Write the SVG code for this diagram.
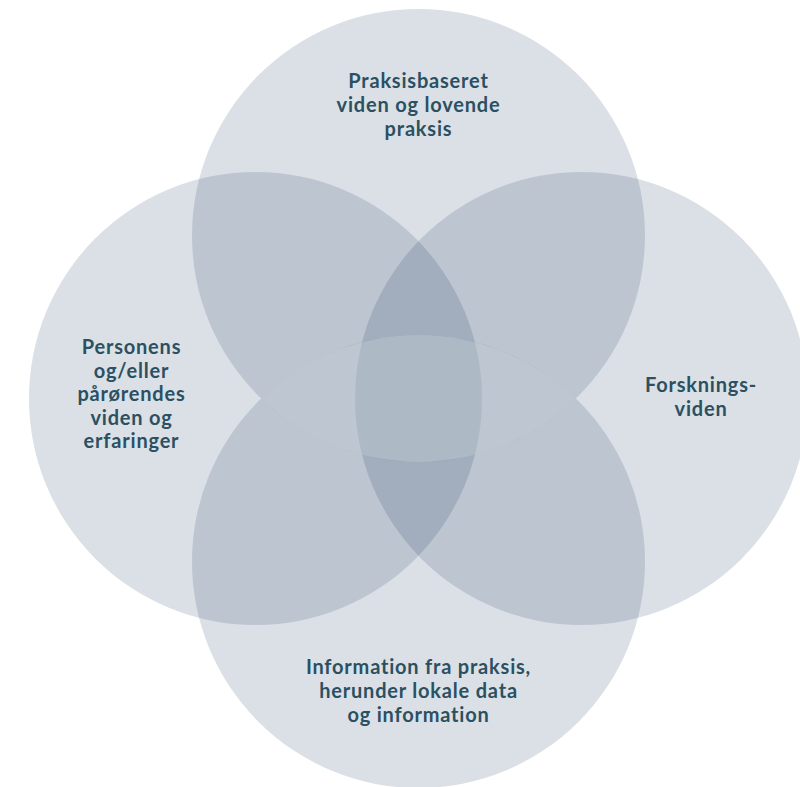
<svg xmlns="http://www.w3.org/2000/svg" width="800" height="787" viewBox="0 0 800 787">
  <style>
    .circle { fill: #0f3058; fill-opacity: 0.15; }
    .lens { fill: #ffffff; fill-opacity: 0.3; }
    .label { font-family: Lato, "Liberation Sans", sans-serif; font-weight: bold; font-size: 20px; letter-spacing: 0.8px; fill: #2b5062; text-anchor: middle; }
  </style>
  <rect width="800" height="787" fill="#ffffff"/>
  <g id="node-top">
    <circle class="circle" cx="418.5" cy="235.5" r="226.5"/>
  </g>
  <g id="node-left">
    <circle class="circle" cx="255.5" cy="398.5" r="226.5"/>
  </g>
  <g id="node-right">
    <circle class="circle" cx="581.5" cy="398.5" r="226.5"/>
  </g>
  <g id="node-bottom">
    <circle class="circle" cx="418.5" cy="561.5" r="226.5"/>
  </g>
  <g id="highlight">
    <path class="lens" d="M 261.2 398.5 A 226.5 226.5 0 0 1 575.8 398.5 A 226.5 226.5 0 0 1 261.2 398.5 Z"/>
  </g>
  <g id="labels">
    <text class="label" x="418.5" y="88">Praksisbaseret</text>
    <text class="label" x="418.5" y="112">viden og lovende</text>
    <text class="label" x="418.5" y="135.5">praksis</text>
    <text class="label" x="131.5" y="354">Personens</text>
    <text class="label" x="131.5" y="377.5">og/eller</text>
    <text class="label" x="131.5" y="401">pårørendes</text>
    <text class="label" x="131.5" y="424.5">viden og</text>
    <text class="label" x="131.5" y="448">erfaringer</text>
    <text class="label" x="701" y="392">Forsknings-</text>
    <text class="label" x="701" y="415.5">viden</text>
    <text class="label" x="418.5" y="674">Information fra praksis,</text>
    <text class="label" x="418.5" y="698">herunder lokale data</text>
    <text class="label" x="418.5" y="721.5">og information</text>
  </g>
  <g id="connectors"/>
</svg>
